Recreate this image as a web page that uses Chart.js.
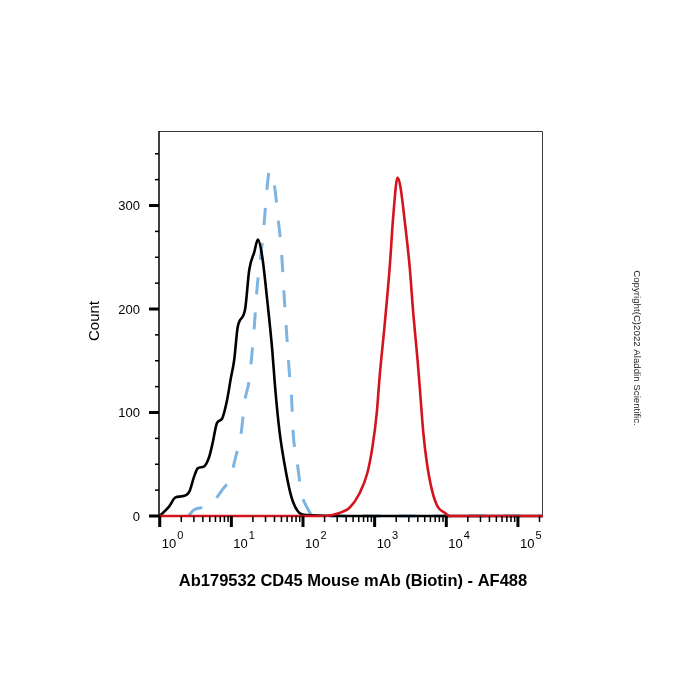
<!DOCTYPE html>
<html>
<head>
<meta charset="utf-8">
<script src="https://cdn.jsdelivr.net/npm/chart.js@4.4.1/dist/chart.umd.min.js"></script>
<style>
  html, body { margin: 0; padding: 0; background: #fff; }
</style>
</head>
<body>
<canvas id="histChart" width="700" height="700"></canvas>
<script>
// Fluorescence (log10 of intensity) vs cell count
const blackLogX = [0.00, 0.13, 0.22, 0.31, 0.41, 0.48, 0.53, 0.62, 0.69, 0.74, 0.80, 0.87, 0.94, 0.99, 1.04, 1.09, 1.19, 1.25, 1.32, 1.37, 1.43, 1.50, 1.57, 1.61, 1.67, 1.74, 1.84, 1.95, 2.05, 3.00, 4.00, 5.35];
const blackCount = [0, 9, 18, 19, 23, 38, 46, 48, 57, 71, 90, 94, 112, 132, 151, 183, 199, 238, 255, 267, 251, 209, 161, 125, 83, 51, 18, 3, 1, 0, 0, 0];

const blueLogX = [0.40, 0.48, 0.69, 0.87, 0.99, 1.06, 1.13, 1.19, 1.25, 1.32, 1.36, 1.42, 1.46, 1.50, 1.53, 1.57, 1.61, 1.65, 1.70, 1.74, 1.77, 1.81, 1.84, 1.86, 1.92, 1.98, 2.05, 2.13, 2.23, 3.00, 4.00, 5.35];
const blueCount = [0, 6, 10, 25, 38, 57, 77, 112, 132, 183, 221, 257, 285, 318, 333, 331, 315, 289, 255, 209, 178, 138, 115, 83, 51, 22, 9, 1, 0, 0, 0, 0];

const redLogX = [0.00, 2.30, 2.41, 2.55, 2.65, 2.79, 2.90, 2.97, 3.03, 3.07, 3.14, 3.21, 3.26, 3.32, 3.36, 3.42, 3.49, 3.54, 3.60, 3.64, 3.68, 3.73, 3.80, 3.88, 3.98, 4.05, 5.35];
const redCount = [0, 0, 1, 4, 8, 22, 42, 67, 100, 135, 185, 240, 290, 327, 318, 285, 240, 195, 150, 115, 80, 51, 25, 9, 3, 0, 0];

const xDecades = [0, 1, 2, 3, 4, 5];
const yMajorTicks = [0, 100, 200, 300];
const yMinorStep = 25;

const xTitle = 'Ab179532 CD45 Mouse mAb (Biotin) - AF488';
const yTitle = 'Count';
const copyright = 'Copyright(C)2022 Aladdin Scientific.';

const FONT = '"Liberation Sans", Arial, sans-serif';

function toPoints(xs, ys) {
    return xs.map((x, i) => ({ x, y: ys[i] }));
}

// frame, ticks, labels and titles drawn against the chart's own scales
const flowAxes = {
    id: 'flowAxes',
    beforeDatasetsDraw(chart) {
        const { ctx, chartArea: a } = chart;
        ctx.save();
        ctx.strokeStyle = '#3a3a3a';
        ctx.lineWidth = 1;
        ctx.beginPath();
        ctx.moveTo(a.left, a.top + 0.5);
        ctx.lineTo(a.right - 0.5, a.top + 0.5);
        ctx.lineTo(a.right - 0.5, a.bottom);
        ctx.stroke();
        ctx.strokeStyle = '#000';
        ctx.lineWidth = 1.5;
        ctx.beginPath();
        ctx.moveTo(a.left, a.top);
        ctx.lineTo(a.left, a.bottom);
        ctx.lineTo(a.right, a.bottom);
        ctx.stroke();
        ctx.restore();
    },
    afterDraw(chart) {
        const { ctx, chartArea: a, scales: { x, y } } = chart;
        ctx.save();
        ctx.fillStyle = '#000';

        // y ticks
        for (let v = yMinorStep; v <= y.max; v += yMinorStep) {
            if (yMajorTicks.includes(v)) continue;
            const py = y.getPixelForValue(v);
            ctx.fillRect(a.left - 4, py - 0.75, 4, 1.5);
        }
        ctx.font = '13px ' + FONT;
        ctx.textAlign = 'right';
        ctx.textBaseline = 'middle';
        yMajorTicks.forEach(v => {
            const py = y.getPixelForValue(v);
            ctx.fillRect(a.left - 10, py - 1.5, 10, 3);
            ctx.fillText(String(v), a.left - 19, py + 1);
        });

        // x ticks (log decades)
        xDecades.forEach(d => {
            for (let m = 2; m <= 9; m++) {
                const lv = d + Math.log10(m);
                if (lv > x.max) break;
                const px = x.getPixelForValue(lv);
                ctx.fillRect(px - 0.75, a.bottom, 1.5, 6);
            }
            const px = x.getPixelForValue(d);
            ctx.fillRect(px - 1.5, a.bottom, 3, 11);

            ctx.textAlign = 'left';
            ctx.textBaseline = 'alphabetic';
            ctx.font = '13px ' + FONT;
            const baseX = px + 2;
            ctx.fillText('10', baseX, 548);
            const w = ctx.measureText('10').width;
            ctx.font = '11px ' + FONT;
            ctx.fillText(String(d), baseX + w + 1, 539);
        });

        // titles
        ctx.textAlign = 'center';
        ctx.textBaseline = 'middle';
        ctx.font = 'bold 16.5px ' + FONT;
        ctx.fillText(xTitle, 353, 581);

        ctx.save();
        ctx.translate(95, 321);
        ctx.rotate(-Math.PI / 2);
        ctx.font = '15px ' + FONT;
        ctx.fillText(yTitle, 0, 0);
        ctx.restore();

        ctx.save();
        ctx.translate(637, 348);
        ctx.rotate(Math.PI / 2);
        ctx.font = '9.7px ' + FONT;
        ctx.fillStyle = '#222';
        ctx.fillText(copyright, 0, 0);
        ctx.restore();

        ctx.restore();
    }
};

const ctx = document.getElementById('histChart').getContext('2d');
new Chart(ctx, {
    type: 'line',
    data: {
        datasets: [
            {
                label: 'Biotin - AF488',
                data: toPoints(redLogX, redCount),
                borderColor: '#d3141e',
                borderWidth: 2.6,
            },
            {
                label: 'Isotype',
                data: toPoints(blackLogX, blackCount),
                borderColor: '#000000',
                borderWidth: 2.6,
            },
            {
                label: 'Blank',
                data: toPoints(blueLogX, blueCount),
                borderColor: '#7db4e2',
                borderWidth: 3,
                borderDash: [17, 18],
            },
        ],
    },
    options: {
        responsive: false,
        devicePixelRatio: 1,
        animation: false,
        layout: { padding: { left: 159, right: 157, top: 131, bottom: 184 } },
        elements: {
            point: { radius: 0 },
            line: { cubicInterpolationMode: 'monotone', fill: false },
        },
        datasets: { line: { clip: false } },
        scales: {
            x: { type: 'linear', min: -0.01, max: 5.35, display: false },
            y: { type: 'linear', min: 0, max: 372, display: false },
        },
        plugins: { legend: { display: false }, tooltip: { enabled: false } },
    },
    plugins: [flowAxes],
});
</script>
</body>
</html>
